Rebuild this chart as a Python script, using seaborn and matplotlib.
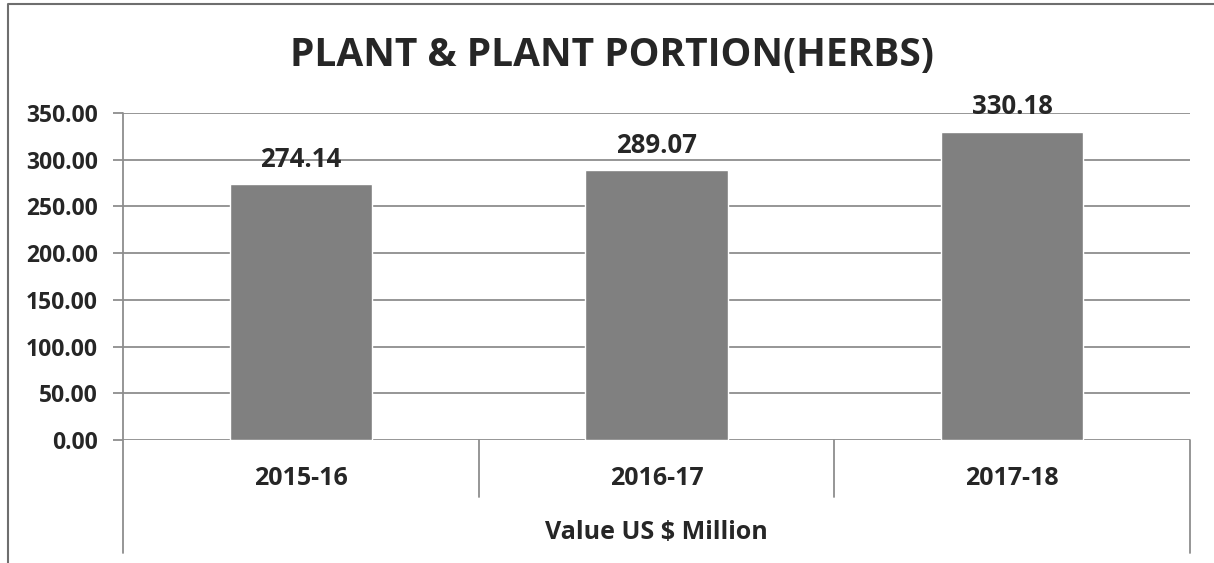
import matplotlib
matplotlib.use("Agg")
import matplotlib.pyplot as plt
import seaborn as sns
import pandas as pd
from matplotlib.lines import Line2D

# data
years = ["2015-16", "2016-17", "2017-18"]
values = [274.14, 289.07, 330.18]
y_ticks = [0, 50, 100, 150, 200, 250, 300, 350]

title = "PLANT & PLANT PORTION(HERBS)"
group_label = "Value US $ Million"

sns.set_style("white")
plt.rcParams['font.family'] = ['Open Sans', 'DejaVu Sans']
plt.rcParams['font.weight'] = 'bold'

grid_col = "#8e8e8e"
bar_col = "#808080"

df = pd.DataFrame({"year": years, "value": values})

fig = plt.figure(figsize=(12.14, 5.63), dpi=100)
fig.patch.set_linewidth(0)
ax = fig.add_axes([0.1013, 0.2185, 0.8789, 0.5808])

sns.barplot(data=df, x="year", y="value", color=bar_col, width=0.4,
            saturation=1, ax=ax, zorder=3)

ax.set_xlim(-0.5, len(years) - 0.5)
ax.set_ylim(0, 350)
ax.set_yticks(y_ticks)
ax.set_yticklabels([f"{v:.2f}" for v in y_ticks], fontsize=16.5, fontweight='bold')
ax.yaxis.grid(True, color=grid_col, linewidth=1.3, zorder=0)
ax.set_axisbelow(True)
ax.tick_params(axis='y', length=7, width=1.3, color=grid_col, pad=11, left=True)
ax.tick_params(axis='x', length=0, pad=19, labelsize=18)
for lbl in ax.get_xticklabels():
    lbl.set_fontweight('bold')
ax.set_xlabel("")
ax.set_ylabel("")

for sp in ax.spines.values():
    sp.set_visible(False)

# value labels on the bars
for container in ax.containers:
    ax.bar_label(container, fmt='%.2f', padding=8, fontsize=18.5, fontweight='bold')

# excel-like category separators below the axis
xt = ax.get_xaxis_transform()
ax.plot([-0.5, -0.5], [1.0, -0.346], transform=xt, color=grid_col, lw=1.3, clip_on=False)
ax.plot([2.5, 2.5], [0.0, -0.346], transform=xt, color=grid_col, lw=1.3, clip_on=False)
for b in [0.5, 1.5]:
    ax.plot([b, b], [0.0, -0.174], transform=xt, color=grid_col, lw=1.3, clip_on=False)

ax.text(1.0, -0.283, group_label, transform=xt, ha='center', va='center',
        fontsize=18, fontweight='bold')

fig.text(0.504, 0.902, title, ha='center', va='center', fontsize=28, fontweight='bold')

# outer chart border (left and top edges visible in the reference)
bx = 8 / 1214
by = 1 - 4 / 563
fig.lines.append(Line2D([bx, bx, 1.0], [0.0, by, by], transform=fig.transFigure,
                        color='#6e6e6e', linewidth=1.5))

fig.savefig("out.png", dpi=100)
